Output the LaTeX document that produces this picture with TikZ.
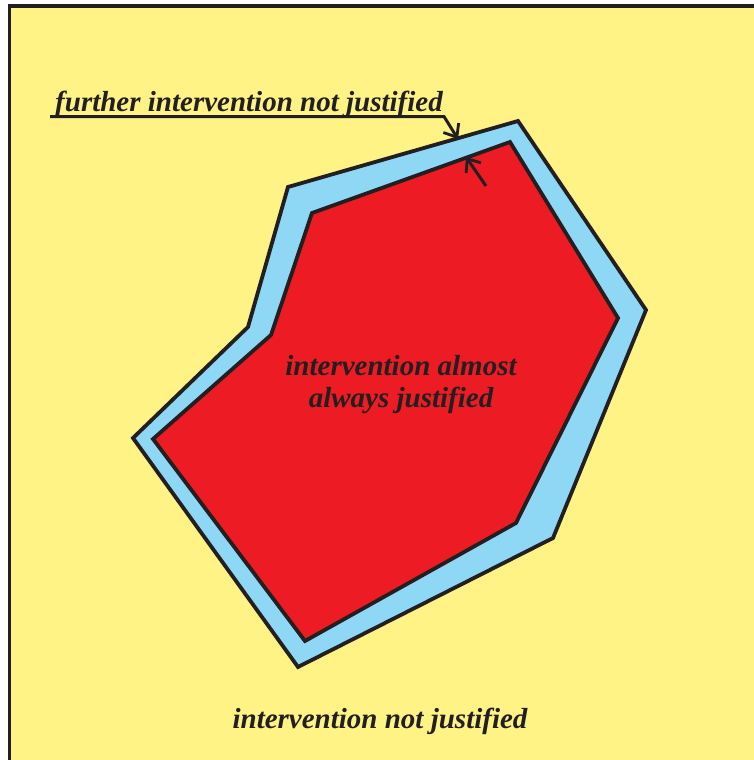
\documentclass[tikz,border=0pt]{standalone}
\usepackage{fontspec}
\setmainfont{Liberation Serif}
\usetikzlibrary{arrows.meta}

\definecolor{paper}{RGB}{255,243,133}
\definecolor{band}{RGB}{143,216,245}
\definecolor{core}{RGB}{237,28,36}
\definecolor{ink}{RGB}{35,31,32}

\tikzset{
  region/.style={draw=ink, line width=3.8pt, line join=miter},
  caption/.style={text=ink, inner sep=0pt,
    font=\fontsize{29}{32}\selectfont\bfseries\itshape},
  leader/.style={draw=ink, line width=3pt},
  tip/.style={-{Straight Barb[length=11pt,width=18pt,line width=2.8pt]}}
}

\begin{document}
\begin{tikzpicture}[x=1pt,y=-1pt]
  \useasboundingbox (0,0) rectangle (754,760);
  \fill[white] (0,0) rectangle (754,760);

  % frame
  \fill[paper] (9.5,6) rectangle (754,760);
  \draw[ink, line width=3.6pt] (9.5,760) -- (9.5,6) -- (754,6);

  % margin band and core region
  \draw[region, fill=band] (288,187) -- (518,121) -- (646,310) -- (553,538)
        -- (298,667) -- (133,438) -- (248,327) -- cycle;
  \draw[region, fill=core] (312,213) -- (510,142) -- (618,318) -- (516,523)
        -- (305,641) -- (153,439) -- (271,335) -- cycle;

  % labels
  \node[caption, anchor=base] (further) at (249,111) {further intervention not justified};
  \node[caption, align=center] (almost) at (401,385) {intervention almost\\always justified};
  \node[caption, anchor=base] (notjust) at (380,728) {intervention not justified};

  % leader and dimension arrows across the band
  \coordinate (ulstart) at (50,116.5);
  \coordinate (bend) at (444,116.5);
  \coordinate (outerhit) at (458,139);
  \coordinate (innertail) at (486,186);
  \coordinate (innerhit) at (466,157);
  \draw[leader, tip, line join=miter] (ulstart) -- (bend) -- (outerhit);
  \draw[leader, tip] (innertail) -- (innerhit);
\end{tikzpicture}
\end{document}
